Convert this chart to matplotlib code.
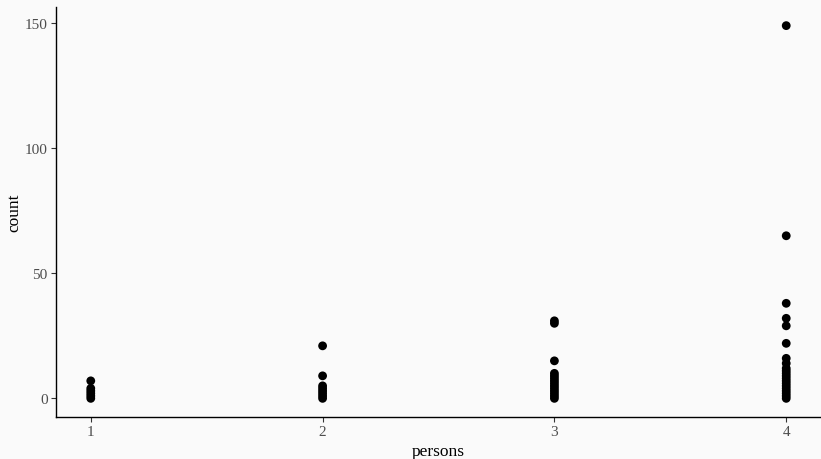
import matplotlib
matplotlib.use("Agg")
import matplotlib.pyplot as plt
import numpy as np

# counts observed for each number of persons
persons_1 = [0, 1, 2, 3, 4, 7]
persons_2 = [0, 1, 2, 3, 4, 5, 9, 21]
persons_3 = [0, 1, 2, 3, 4, 5, 6, 7, 8, 9, 10, 15, 30, 31]
persons_4 = [0, 1, 2, 3, 4, 5, 6, 7, 8, 9, 10, 11, 12, 14, 16,
             22, 29, 32, 38, 65, 149]

groups = [1, 2, 3, 4]
series = [persons_1, persons_2, persons_3, persons_4]

plt.rcParams['font.family'] = ['Liberation Serif', 'DejaVu Serif']

fig = plt.figure(figsize=(8.21, 4.6), dpi=100)
fig.patch.set_facecolor('#FAFAFA')
ax = fig.add_axes([56 / 821, 42 / 460, 1 - 56 / 821, (418 - 8) / 460])
ax.set_facecolor('#FAFAFA')

for g, vals in zip(groups, series):
    ax.scatter(np.full(len(vals), g), vals, s=40, color='black',
               edgecolors='none', zorder=3)

ymax = 149
ax.set_xlim(1 - 0.15, 4 + 0.15)
ax.set_ylim(-0.05 * ymax, ymax * 1.05)
ax.set_xticks(groups)
ax.set_yticks([0, 50, 100, 150])

for side in ['top', 'right']:
    ax.spines[side].set_visible(False)
for side in ['left', 'bottom']:
    ax.spines[side].set_color('black')
    ax.spines[side].set_linewidth(1.0)

ax.tick_params(axis='both', colors='#333333', labelcolor='#4D4D4D',
               labelsize=11, length=3.5, width=0.8, pad=2.5)
ax.set_xlabel('persons', fontsize=12.5, labelpad=3.5)
ax.set_ylabel('count', fontsize=12.5)
ax.yaxis.set_label_coords(-0.044, 0.5)

fig.savefig('out.png', dpi=100, facecolor=fig.get_facecolor())
